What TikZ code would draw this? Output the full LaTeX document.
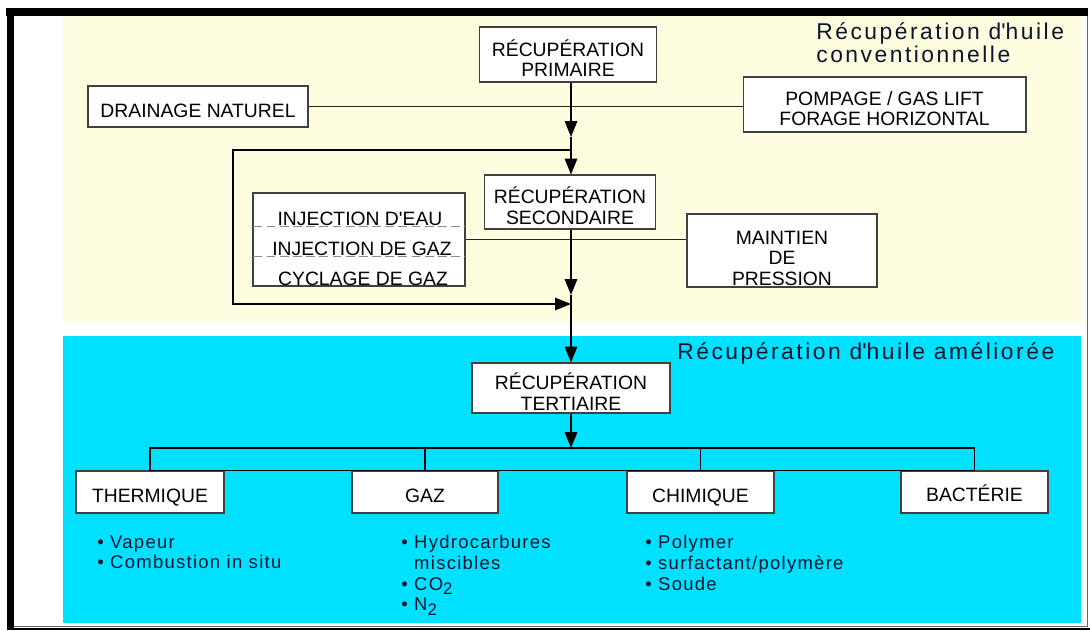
\documentclass[tikz,border=0pt]{standalone}
\usepackage{fontspec}
\setmainfont{Liberation Sans}
\newfontfamily\titlefont[LetterSpace=11]{Liberation Sans}
\newfontfamily\listfont[LetterSpace=7]{Liberation Sans}
\usepackage{xcolor}
\usepackage{tikz}
\usetikzlibrary{positioning,arrows.meta,calc}

\definecolor{oilcream}{RGB}{255,253,224}
\definecolor{eorcyan}{RGB}{0,224,255}
\definecolor{textnavy}{RGB}{12,20,45}
\newcommand{\chemsub}[1]{\raisebox{-0.45ex}{\fontsize{9.5}{9.5}\selectfont #1}}
% box text sits a little below the box centre
\newcommand{\boxtext}[2][6.6pt]{\raisebox{-#1}[0pt][0pt]{\begin{tabular}{@{}c@{}}#2\end{tabular}}}

\begin{document}
\begin{tikzpicture}[
  x=0.02cm, y=-0.02cm,
  font=\fontsize{11}{11.7}\selectfont,
  box/.style={draw=black!75, fill=white, line width=0.6pt, inner sep=1pt},
  line/.style={-{Triangle[length=9pt,width=7pt]}, line width=1.1pt, draw=black},
  trunk/.style={line width=1.1pt, draw=black},
  tie/.style={line width=0.6pt, draw=black!85},
  divider/.style={draw=black!45, line width=0.7pt, dash pattern=on 5pt off 2.5pt},
  title/.style={font=\titlefont\fontsize{13}{12}\selectfont, align=left, anchor=west, inner sep=0pt, text=textnavy},
  items/.style={font=\listfont\fontsize{10.5}{11.8}\selectfont, align=left, anchor=north west, inner sep=0pt, text=textnavy}
]
\useasboundingbox (0,0) rectangle (1090,630);

% Zones and frame
\fill[oilcream] (63,16) rectangle (1082,322);
\fill[eorcyan] (63,336) rectangle (1081,623);
\draw[black!60, line width=0.5pt] (14,626.5) -- (1088,626.5) (1087,16) -- (1087,626.5);
\draw[black, line width=0.16cm] (6,12) -- (1088,12);
\draw[black, line width=0.14cm] (10.5,8) -- (10.5,630);
\draw[black, line width=0.05cm] (7,629) -- (1090,629);

\node[title] (convtitle) at (816,43) {Récupération d\textquotesingle huile\\conventionnelle};
\node[title] (eortitle) at (677,353) {Récupération d\textquotesingle huile améliorée};

% Conventional recovery
\node[box, minimum width=3.54cm, minimum height=1.1cm] (prim) at (568,54.5) {\boxtext{RÉCUPÉRATION\\PRIMAIRE}};
\node[box, minimum width=4.4cm, minimum height=0.82cm] (drain) at (198,106.5) {\boxtext{DRAINAGE NATUREL}};
\node[box, minimum width=5.66cm, minimum height=1.1cm] (pomp) at (884.5,104.5) {\boxtext{POMPAGE / GAS LIFT\\FORAGE HORIZONTAL}};
\node[box, minimum width=3.42cm, minimum height=1.08cm] (sec) at (570,202) {\boxtext{RÉCUPÉRATION\\SECONDAIRE}};
\node[box, minimum width=4.24cm, minimum height=1.86cm] (inj) at (359,239.5) {};
\node (inj1) at (360,219) {INJECTION D\textquotesingle EAU};
\node (inj2) at (362,249) {INJECTION DE GAZ};
\node (inj3) at (363,279) {CYCLAGE DE GAZ};
\node[box, minimum width=3.8cm, minimum height=1.46cm] (maint) at (782,250.5) {\boxtext[8.5pt]{MAINTIEN\\DE\\PRESSION}};

% Enhanced recovery
\node[box, minimum width=3.96cm, minimum height=1cm] (tert) at (571,388) {\boxtext{RÉCUPÉRATION\\TERTIAIRE}};
\node[box, minimum width=2.96cm, minimum height=0.84cm] (therm) at (150,492) {\boxtext{THERMIQUE}};
\node[box, minimum width=2.92cm, minimum height=0.84cm] (gaz) at (425,492) {\boxtext{GAZ}};
\node[box, minimum width=2.94cm, minimum height=0.84cm] (chim) at (700.5,492) {\boxtext{CHIMIQUE}};
\node[box, minimum width=2.94cm, minimum height=0.84cm] (bact) at (974.5,492) {\boxtext[5pt]{BACTÉRIE}};

\node[items] (thermlist) at (97,535) {• Vapeur\\• Combustion in situ};
\node[items] (gazlist) at (401,535) {• Hydrocarbures\\\phantom{• }miscibles\\• CO\chemsub{2}\\• N\chemsub{2}};
\node[items] (chimlist) at (645,535) {• Polymer\\• surfactant/polymère\\• Soude};

% Junctions on the trunk
\coordinate (a1) at (571,137);
\coordinate (fork) at (571,150);
\coordinate (a2) at (571,295);
\coordinate (merge) at (571,304);
\coordinate (bus) at (571,448);

% Connectors
\draw[divider] ($(inj.north west)+(1,34)$) -- ($(inj.north east)+(-1,34)$);
\draw[divider] ($(inj.north west)+(1,64)$) -- ($(inj.north east)+(-1,64)$);
\draw[tie] (drain.east) -- (drain.east -| pomp.west);
\draw[tie] (inj.east) -- (inj.east -| maint.west);

\draw[line] (prim.south -| a1) -- (a1);
\draw[line] (a1) -- (sec.north -| a1);
\draw[line] (fork) -- ++(-338,0) |- (merge);
\draw[line] (sec.south -| a2) -- (a2);
\draw[line] (a2) -- (tert.north -| a2);
\draw[line] (tert.south -| bus) -- (bus);

\draw[trunk] (therm.north |- bus) rectangle (bact.north);
\draw[trunk] (gaz.north) -- (gaz.north |- bus);
\draw[trunk] (chim.north) -- (chim.north |- bus);
\end{tikzpicture}
\end{document}
